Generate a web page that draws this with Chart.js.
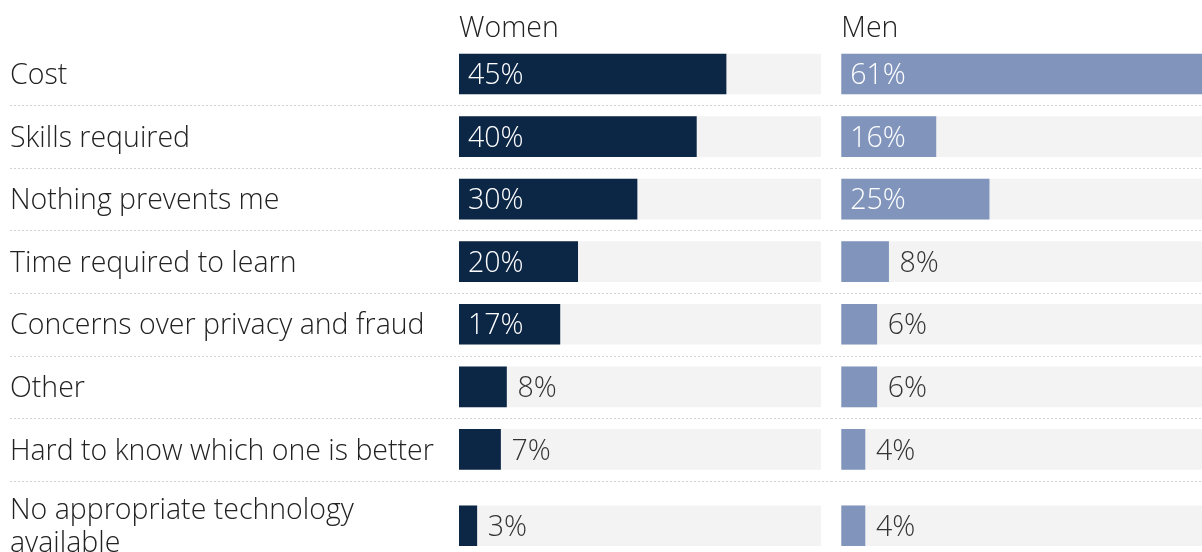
<!DOCTYPE html>
<html>
<head>
<meta charset="utf-8">
<script src="https://cdn.jsdelivr.net/npm/chart.js@4.4.1/dist/chart.umd.min.js"></script>
<style>
  html, body { margin: 0; padding: 0; background: #fff; overflow: hidden; }
  #wrap { position: relative; width: 1202px; height: 552px; }
  #women { position: absolute; left: 0; top: 0; }
  #men { position: absolute; left: 831px; top: 0; }
</style>
</head>
<body>
<div id="wrap">
  <canvas id="women" width="831" height="552"></canvas>
  <canvas id="men" width="371" height="552"></canvas>
</div>
<script>
// barriers to using the technology, share of respondents (%)
var categories = [
    "Cost",
    "Skills required",
    "Nothing prevents me",
    "Time required to learn",
    "Concerns over privacy and fraud",
    "Other",
    "Hard to know which one is better",
    ["No appropriate technology", "available"]
];
var women = [45, 40, 30, 20, 17, 8, 7, 3];
var men = [61, 16, 25, 8, 6, 6, 4, 4];
var panelTitles = ["Women", "Men"];

var FONT = "Open Sans";
var FONT_SIZE = 28.5;
var FONT_WEIGHT = 300;
var TEXT = "#222222";
var TRACK = "#f3f3f3";
var X_MAX = 61;            // both panels share the same scale
var Y_VISIBLE = 8.14;      // rows shown; the last one runs off the bottom edge
var HEADER_H = 42.7;

Chart.defaults.font.family = FONT;
Chart.defaults.font.weight = FONT_WEIGHT;
Chart.defaults.color = TEXT;

// two-line labels get a taller row
var rowUnits = categories.map(function (c) { return Array.isArray(c) ? 1.44 : 1; });
var centers = [];
var bounds = [];
var acc = 0;
rowUnits.forEach(function (u, i) {
    centers.push(acc + u / 2);
    acc += u;
    if (i < rowUnits.length - 1) bounds.push(acc);
});

var rowRules = {
    id: "rowRules",
    beforeDatasetsDraw: function (chart, args, opts) {
        var ctx = chart.ctx;
        var y = chart.scales.y;
        ctx.save();
        ctx.strokeStyle = "#d2d2d2";
        ctx.lineWidth = 1;
        ctx.setLineDash([2, 2]);
        bounds.forEach(function (b) {
            var py = Math.round(y.getPixelForValue(b)) + 0.5;
            ctx.beginPath();
            ctx.moveTo(opts.from, py);
            ctx.lineTo(chart.width, py);
            ctx.stroke();
        });
        ctx.restore();
    }
};

var valueLabels = {
    id: "valueLabels",
    afterDatasetsDraw: function (chart) {
        var ctx = chart.ctx;
        var meta = chart.getDatasetMeta(0);
        var values = chart.data.datasets[0].data;
        ctx.save();
        ctx.font = FONT_WEIGHT + " " + FONT_SIZE + "px '" + FONT + "'";
        ctx.textBaseline = "middle";
        ctx.textAlign = "left";
        meta.data.forEach(function (bar, i) {
            var v = values[i].x;
            var inside = v >= 10;
            ctx.fillStyle = inside ? "#ffffff" : "#333333";
            ctx.fillText(v + "%", inside ? bar.base + 9 : bar.x + 11, bar.y + 2);
        });
        ctx.restore();
    }
};

function makePanel(canvasId, values, color, title, withLabels) {
    return new Chart(document.getElementById(canvasId), {
        type: "bar",
        data: {
            datasets: [{
                data: values.map(function (v, i) { return {x: v, y: centers[i]}; }),
                backgroundColor: color,
                barThickness: 40,
                grouped: false,
                order: 1
            }, {
                data: values.map(function (v, i) { return {x: X_MAX, y: centers[i]}; }),
                backgroundColor: TRACK,
                barThickness: 40,
                grouped: false,
                order: 2
            }]
        },
        options: {
            indexAxis: "y",
            responsive: false,
            animation: false,
            layout: {padding: {left: withLabels ? 10 : 10.3, right: withLabels ? 10 : 0, top: 0, bottom: 0}},
            plugins: {
                legend: {display: false},
                tooltip: {enabled: false},
                rowRules: {from: withLabels ? 10 : 0}
            },
            scales: {
                x: {
                    type: "linear",
                    position: "top",
                    min: 0,
                    max: X_MAX,
                    grid: {display: false},
                    border: {display: false},
                    ticks: {display: false},
                    title: {
                        display: true,
                        text: title,
                        align: "start",
                        color: TEXT,
                        font: {size: FONT_SIZE, weight: FONT_WEIGHT},
                        padding: {top: 12, bottom: 0}
                    },
                    afterFit: function (scale) {
                        scale.height = HEADER_H;
                        scale.paddingLeft = 0;
                        scale.paddingRight = 0;
                    }
                },
                y: {
                    type: "linear",
                    display: withLabels,
                    reverse: true,
                    offset: false,
                    min: 0,
                    max: Y_VISIBLE,
                    grid: {display: false, offset: false},
                    border: {display: false},
                    afterBuildTicks: function (scale) {
                        scale.ticks = centers.map(function (c) { return {value: c}; });
                    },
                    ticks: {
                        autoSkip: false,
                        crossAlign: "far",
                        labelOffset: 2,
                        color: TEXT,
                        font: {size: FONT_SIZE, weight: FONT_WEIGHT, lineHeight: 1.16},
                        callback: function (value, index) { return categories[index]; }
                    },
                    afterFit: function (scale) {
                        if (withLabels) scale.width = 449;
                        scale.paddingTop = 0;
                        scale.paddingBottom = 0;
                    }
                }
            }
        },
        plugins: [rowRules, valueLabels]
    });
}

makePanel("women", women, "#0c2646", panelTitles[0], true);
makePanel("men", men, "#8094bc", panelTitles[1], false);
</script>
</body>
</html>
